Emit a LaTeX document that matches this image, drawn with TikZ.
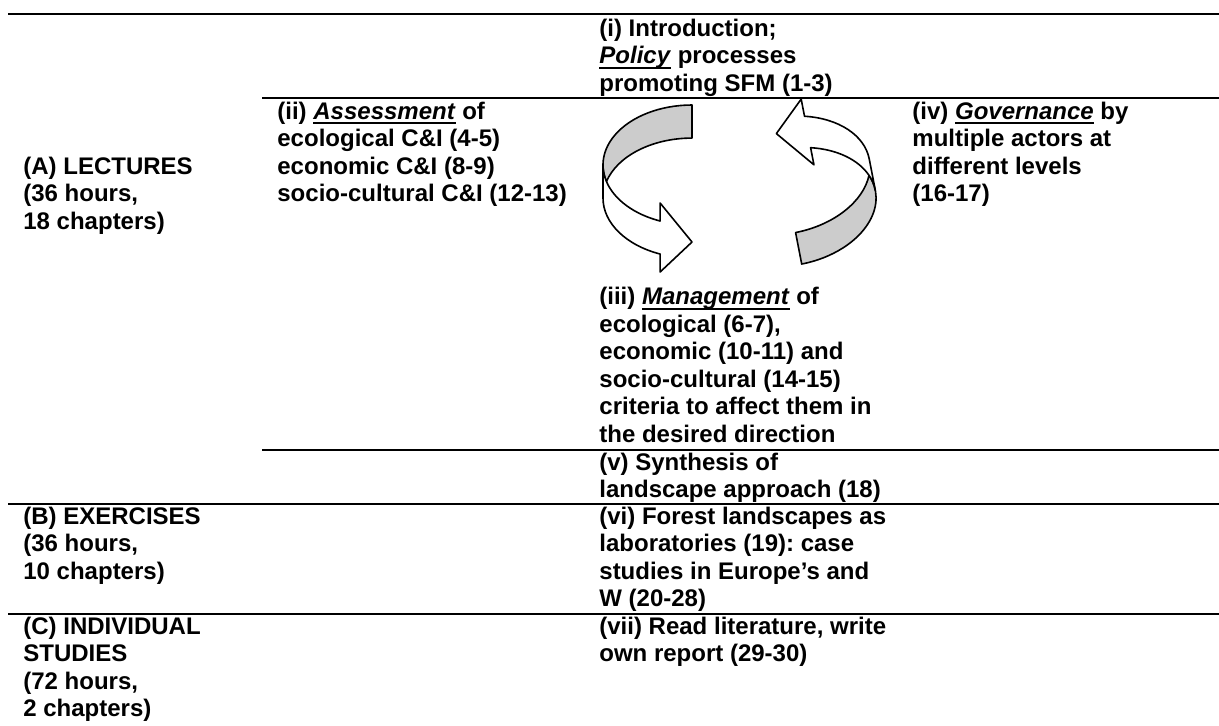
\documentclass[tikz,border=0pt]{standalone}
\usepackage{fontspec}
\setmainfont{Liberation Sans}
\frenchspacing
\definecolor{bandgray}{RGB}{204,204,204}
\newcommand{\uword}[1]{\setbox0\hbox{#1}\rlap{\rule[-2.6pt]{\wd0}{0.9pt}}\box0\relax}
\newcommand{\ribbonshape}{%
  \path[band, fill=bandgray] (0,60)
    arc[start angle=90, end angle=196, x radius=44.5pt, y radius=30pt]
    arc[start angle=164, end angle=90, x radius=44.5pt, y radius=30pt] -- cycle;
  \path[band, fill=white] (-85.55,-16.54)
    arc[start angle=196, end angle=249, x radius=44.5pt, y radius=30pt]
    -- (-31.9,-38) -- (0,-77) -- (-31.9,-107) -- (-31.9,-89.02)
    arc[start angle=249, end angle=180, x radius=44.5pt, y radius=30pt]
    -- (-89,0)
    arc[start angle=180, end angle=196, x radius=44.5pt, y radius=30pt] -- cycle;
}
\begin{document}
\begin{tikzpicture}[x=0.5pt,y=0.5pt,
  txt/.style={anchor=base west, inner sep=0pt, font=\fontsize{12}{13.8}\selectfont\bfseries},
  rulethick/.style={line width=1.3pt},
  rulethin/.style={line width=1pt},
  band/.style={draw=black, line width=0.8pt, line join=round}]
\useasboundingbox (0,0) rectangle (1219,-725);

% table rules
\draw[rulethick] (8,-14) -- (1219,-14);
\draw[rulethin] (262,-98) -- (1219,-98);
\draw[rulethin] (262,-450) -- (1219,-450);
\draw[rulethin] (8,-504) -- (1219,-504);
\draw[rulethin] (8,-614) -- (1219,-614);

% texts
\node[txt] (i) at (599,-36) {\begin{tabular}[t]{@{}l@{}}(i) Introduction;\\\uword{\textit{Policy}} processes\\promoting SFM (1-3)\end{tabular}};
\node[txt] (ii) at (277,-119) {\begin{tabular}[t]{@{}l@{}}(ii) \uword{\textit{Assessment}} of\\ecological C\&I (4-5)\\economic C\&I (8-9)\\socio-cultural C\&I (12-13)\end{tabular}};
\node[txt] (iv) at (912,-119) {\begin{tabular}[t]{@{}l@{}}(iv) \uword{\textit{Governance}} by\\multiple actors at\\different levels\\(16-17)\end{tabular}};
\node[txt] (A) at (23,-174.2) {\begin{tabular}[t]{@{}l@{}}(A) LECTURES\\(36 hours,\\18 chapters)\end{tabular}};
\node[txt] (iii) at (599,-304.5) {\begin{tabular}[t]{@{}l@{}}(iii) \uword{\textit{Management}} of\\ecological (6-7),\\economic (10-11) and\\socio-cultural (14-15)\\criteria to affect them in\\the desired direction\end{tabular}};
\node[txt] (v) at (599,-470) {\begin{tabular}[t]{@{}l@{}}(v) Synthesis of\\landscape approach (18)\end{tabular}};
\node[txt] (vi) at (599,-524) {\begin{tabular}[t]{@{}l@{}}(vi) Forest landscapes as\\laboratories (19): case\\studies in Europe’s and\\W (20-28)\end{tabular}};
\node[txt] (B) at (23,-524) {\begin{tabular}[t]{@{}l@{}}(B) EXERCISES\\(36 hours,\\10 chapters)\end{tabular}};
\node[txt] (vii) at (599,-634) {\begin{tabular}[t]{@{}l@{}}(vii) Read literature, write\\own report (29-30)\end{tabular}};
\node[txt] (C) at (23,-634) {\begin{tabular}[t]{@{}l@{}}(C) INDIVIDUAL\\STUDIES\\(72 hours,\\2 chapters)\end{tabular}};

% circular ribbon arrows
\begin{scope}[shift={(692,-165)}]
  \ribbonshape
\end{scope}
\begin{scope}[shift={(790.6,-206.9)}, rotate=191, scale=0.97]
  \ribbonshape
\end{scope}
\end{tikzpicture}
\end{document}
